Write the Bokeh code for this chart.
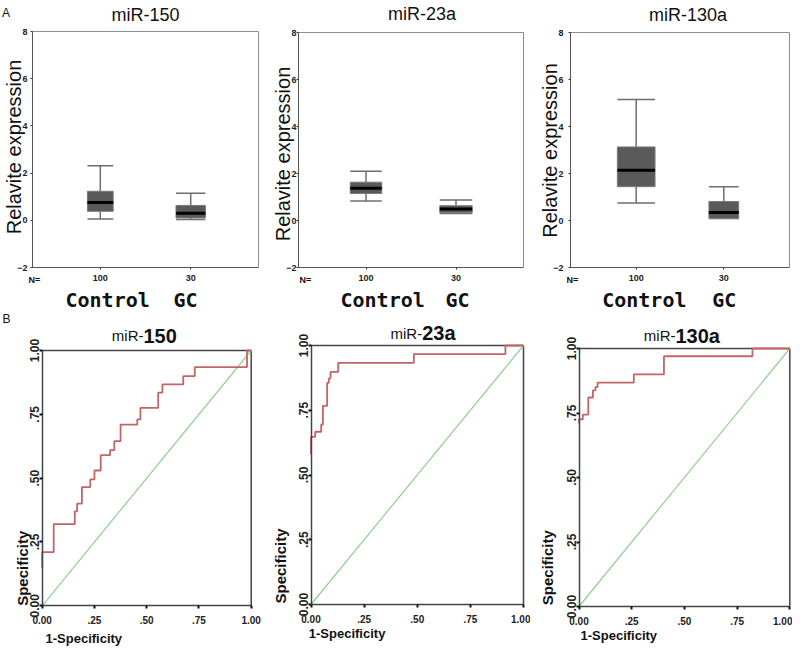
import math
from bokeh.plotting import figure
from bokeh.layouts import column, row
from bokeh.models import Label, FixedTicker, Range1d
from bokeh.embed import file_html
from bokeh.resources import INLINE

# ---------------- data ----------------
box_titles = ["miR-150", "miR-23a", "miR-130a"]
group_positions = [1, 2]
group_n = ["100", "30"]
group_names = ["Control", "GC"]
whisker_low = [[0.06, 0.03], [0.83, 0.30], [0.74, 0.09]]
quartile1 = [[0.38, 0.10], [1.15, 0.33], [1.44, 0.09]]
medians = [[0.75, 0.30], [1.37, 0.49], [2.14, 0.34]]
quartile3 = [[1.23, 0.63], [1.63, 0.63], [3.13, 0.81]]
whisker_high = [[2.31, 1.15], [2.10, 0.87], [5.15, 1.44]]
box_yticks = [-2, 0, 2, 4, 6, 8]

roc_prefix = "miR-"
roc_suffix = ["150", "23a", "130a"]
fpr_150 = [0, 0, 0.055, 0.156, 0.167, 0.19, 0.23, 0.25, 0.28, 0.325, 0.345, 0.375,
           0.455, 0.47, 0.555, 0.575, 0.675, 0.73, 0.98, 1.0]
tpr_150 = [0.15, 0.21, 0.32, 0.37, 0.40, 0.465, 0.495, 0.53, 0.59, 0.61, 0.645, 0.71,
           0.73, 0.775, 0.835, 0.867, 0.90, 0.935, 1.0, 1.0]
fpr_23a = [0, 0, 0.02, 0.048, 0.056, 0.076, 0.084, 0.092, 0.128, 0.484, 0.915, 1.0]
tpr_23a = [0.58, 0.647, 0.667, 0.695, 0.767, 0.856, 0.873, 0.898, 0.933, 0.967, 1.0, 1.0]
fpr_130a = [0, 0, 0.018, 0.044, 0.066, 0.078, 0.088, 0.26, 0.403, 0.823, 1.0]
tpr_130a = [0.71, 0.725, 0.744, 0.81, 0.838, 0.85, 0.868, 0.90, 0.97, 1.0, 1.0]
roc_fpr = [fpr_150, fpr_23a, fpr_130a]
roc_tpr = [tpr_150, tpr_23a, tpr_130a]
roc_ticks = [0, 0.25, 0.5, 0.75, 1]
roc_tick_labels = ["0.00", ".25", ".50", ".75", "1.00"]
diag = [0, 1]

# ---------------- style / layout (pixels) ----------------
SANS = "Liberation Sans"
MONO = "DejaVu Sans Mono"

BOX_XLIM = (0.25, 2.75)
BOX_YLIM = (-2, 8)
ROC_LIM = (0, 1)

ROW1_H = 312
ROW2_H = 334
BOX_W = [264, 266, 262]
# plot box inside each canvas: (left, top, right, bottom)
BOX_RECT = [(32, 31, 258, 267), (34, 32, 259, 267), (40, 32, 259, 267)]
box_tick_standoff = [3, 0, 5]
box_widths = [[0.285, 0.325], [0.35, 0.36], [0.43, 0.34]]
title_pos = [(145, 14.2), (157.5, 13.3), (157.5, 14.2)]
ylab_pos = [(13, 146.5), (18.5, 153.5), (19, 150)]
n_pos = [(34, 279), (41, 279.5), (42, 279)]
ctrl_pos = [(65, 299), (76, 299), (71.7, 299)]
gc_pos = [(173, 299), (181, 299), (181.7, 299)]

ROC_W = [264, 266, 262]
ROC_RECT = [(41.7, 38, 250.7, 293.3), (46.5, 33, 259, 292), (48.5, 36, 259.3, 294)]
roc_title_pos = [(143, 23), (157.7, 20.5), (145, 23)]
spec_pos = [(21.7, 293.3), (16, 291), (16.7, 292.7)]
onespec_pos = [(45, 326), (44.3, 320.5), (50, 323)]


def txt(p, H, cx, cy, text, size, font=SANS, style="normal", align="center",
        angle=0, color="#111111"):
    p.add_layout(Label(x=cx, y=H - cy, x_units="screen", y_units="screen", text=text,
                       text_font_size=f"{size}px", text_font=font, text_font_style=style,
                       text_align=align, text_baseline="middle", angle=angle,
                       text_color=color))


def make_fig(W, H, rect, xlim, ylim):
    L, T, R, B = rect
    sx = (xlim[1] - xlim[0]) / (R - L)
    sy = (ylim[1] - ylim[0]) / (B - T)
    xr = Range1d(xlim[0] - L * sx, xlim[1] + (W - R) * sx)
    yr = Range1d(ylim[0] - (H - B) * sy, ylim[1] + T * sy)
    p = figure(width=W, height=H, x_range=xr, y_range=yr, output_backend="svg",
               toolbar_location=None, tools="", title=None,
               min_border=0, min_border_left=0, min_border_right=0,
               min_border_top=0, min_border_bottom=0)
    p.xgrid.visible = False
    p.ygrid.visible = False
    p.outline_line_color = None
    p.background_fill_color = "white"
    p.border_fill_color = "white"
    p.xaxis.fixed_location = ylim[0]
    p.xaxis.bounds = xlim
    p.yaxis.fixed_location = xlim[0]
    p.yaxis.bounds = ylim
    for ax in (p.xaxis, p.yaxis):
        ax.axis_label = None
        ax.minor_tick_line_color = None
        ax.major_tick_in = 0
    return p


def box_fig(k):
    W, H = BOX_W[k], ROW1_H
    p = make_fig(W, H, BOX_RECT[k], BOX_XLIM, BOX_YLIM)
    for ax in (p.xaxis, p.yaxis):
        ax.axis_line_color = "#555555"
        ax.major_tick_line_color = "#333333"
        ax.major_tick_out = 2
        ax.major_label_text_font = SANS
        ax.major_label_text_font_style = "bold"
        ax.major_label_text_font_size = "9px"
        ax.major_label_text_color = "#222222"
    p.yaxis.ticker = FixedTicker(ticks=box_yticks)
    p.yaxis.major_label_standoff = box_tick_standoff[k]
    p.xaxis.ticker = FixedTicker(ticks=group_positions)
    p.xaxis.major_label_overrides = {group_positions[i]: group_n[i] for i in range(2)}
    p.xaxis.major_label_standoff = 5
    # top and right frame edges
    p.segment([BOX_XLIM[0], BOX_XLIM[1]], [BOX_YLIM[1], BOX_YLIM[0]],
              [BOX_XLIM[1], BOX_XLIM[1]], [BOX_YLIM[1], BOX_YLIM[1]],
              line_color="#8c8c8c", line_width=1)

    w = box_widths[k]
    xs = group_positions
    left = [xs[i] - w[i] / 2 for i in range(2)]
    right = [xs[i] + w[i] / 2 for i in range(2)]
    wc = "#6e6e6e"
    p.segment(xs, quartile3[k], xs, whisker_high[k], line_color=wc, line_width=1.5)
    p.segment(xs, quartile1[k], xs, whisker_low[k], line_color=wc, line_width=1.5)
    p.segment(left, whisker_high[k], right, whisker_high[k], line_color=wc, line_width=1.5)
    p.segment(left, whisker_low[k], right, whisker_low[k], line_color=wc, line_width=1.5)
    p.vbar(x=xs, width=w, bottom=quartile1[k], top=quartile3[k],
           fill_color="#5a5a5a", line_color="#7a7a7a", line_width=1)
    p.segment(left, medians[k], right, medians[k], line_color="black", line_width=3)

    txt(p, H, *title_pos[k], box_titles[k], 18)
    txt(p, H, *ylab_pos[k], "Relavite expression", 20, angle=math.pi / 2)
    txt(p, H, *n_pos[k], "N=", 9, style="bold")
    txt(p, H, *ctrl_pos[k], group_names[0], 20, font=MONO, style="bold", align="left")
    txt(p, H, *gc_pos[k], group_names[1], 20, font=MONO, style="bold", align="left")
    return p


def roc_fig(k):
    W, H = ROC_W[k], ROW2_H
    p = make_fig(W, H, ROC_RECT[k], ROC_LIM, ROC_LIM)
    for ax in (p.xaxis, p.yaxis):
        ax.axis_line_color = "#444444"
        ax.axis_line_width = 1.5
        ax.major_tick_line_color = "#111111"
        ax.major_tick_line_width = 2
        ax.major_tick_out = 3
        ax.ticker = FixedTicker(ticks=roc_ticks)
        ax.major_label_overrides = {roc_ticks[i]: roc_tick_labels[i] for i in range(5)}
        ax.major_label_text_font = SANS
        ax.major_label_text_font_style = "bold"
        ax.major_label_text_color = "#222222"
    p.xaxis.major_label_text_font_size = "10px"
    p.yaxis.major_label_text_font_size = "12px"
    p.yaxis.major_label_orientation = "vertical"
    p.yaxis.major_label_standoff = 0
    p.xaxis.major_label_standoff = 7
    p.segment([ROC_LIM[0], ROC_LIM[1]], [ROC_LIM[1], ROC_LIM[0]],
              [ROC_LIM[1], ROC_LIM[1]], [ROC_LIM[1], ROC_LIM[1]],
              line_color="#444444", line_width=1.5)

    p.line(diag, diag, line_color="#8fd08f", line_width=1.2)
    p.step(roc_fpr[k], roc_tpr[k], mode="after", line_color="#c46464", line_width=1.8)

    tx, ty = roc_title_pos[k]
    txt(p, H, tx, ty, roc_prefix, 15, align="right")
    txt(p, H, tx, ty, roc_suffix[k], 20, style="bold", align="left")
    txt(p, H, *spec_pos[k], "Specificity", 15, style="bold", align="left",
        angle=math.pi / 2)
    txt(p, H, *onespec_pos[k], "1-Specificity", 13, style="bold", align="left")
    return p


boxes = [box_fig(k) for k in range(3)]
rocs = [roc_fig(k) for k in range(3)]
txt(boxes[0], ROW1_H, 5.5, 12.5, "A", 12)
txt(rocs[0], ROW2_H, 6, 6, "B", 12)

layout = column(row(*boxes, spacing=0), row(*rocs, spacing=0), spacing=0)
open("out.html", "w").write(file_html(layout, INLINE))
